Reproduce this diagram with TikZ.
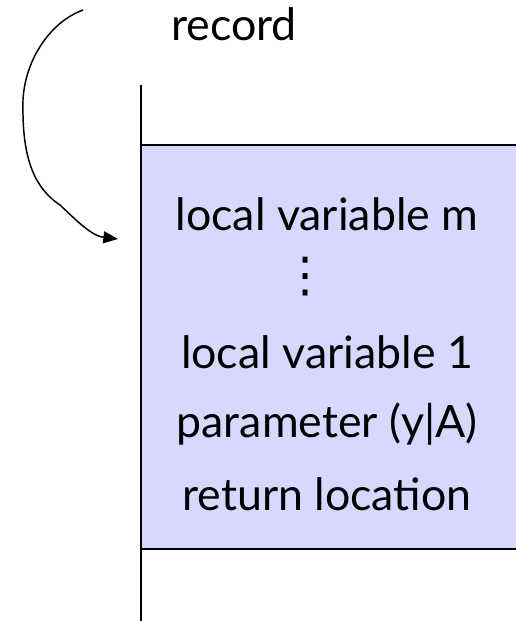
\documentclass[tikz,border=0pt]{standalone}
\usepackage{fontspec}
\setmainfont{Lato}
\newfontfamily\symfont{DejaVu Sans}
\usetikzlibrary{arrows.meta}
\definecolor{framefill}{RGB}{216,216,255}
\tikzset{every picture/.style={line width=0.75pt}}
\tikzset{
  slot/.style={anchor=center,inner sep=0.75pt,font=\fontsize{33.5}{38}\selectfont},
}

\begin{document}
\begin{tikzpicture}[x=0.75pt,y=0.75pt,yscale=-1,xscale=1]
\useasboundingbox (0,0) rectangle (516,621);

%Frame fill
\fill [framefill] (141,145) rectangle (516,549);
%Frame edges
\draw [line width=1pt] (141,145) -- (516,145);
\draw [line width=1pt] (141,549) -- (516,549);
%Stack line
\draw [line width=1pt] (141,85) -- (141,621);

% Text Node
\node [slot] (rec) at (234,24) {record};
% Text Node
\node [slot] (lvm) at (327,214) {local variable m};
% Text Node
\node [slot,inner sep=0pt,font=\symfont\fontsize{36}{36}\selectfont] (dots) at (305,277) {⋮};
% Text Node
\node [slot] (lvone) at (327,352) {local variable 1};
% Text Node
\node [slot] (param) at (327,424) {parameter (y|A)};
% Text Node
\node [slot] (retloc) at (327,494) {return location};

%Curve Lines
\coordinate (cstart) at (83,10);
\coordinate (cend) at (118,239);
\draw [line width=1.1pt,-{Triangle[length=11pt,width=9pt]}] (cstart) .. controls (50,22) and (25,60) .. (23,100)
  .. controls (22,150) and (30,185) .. (60,205)
  .. controls (78,222) and (92,236) .. (cend);

\end{tikzpicture}
\end{document}
